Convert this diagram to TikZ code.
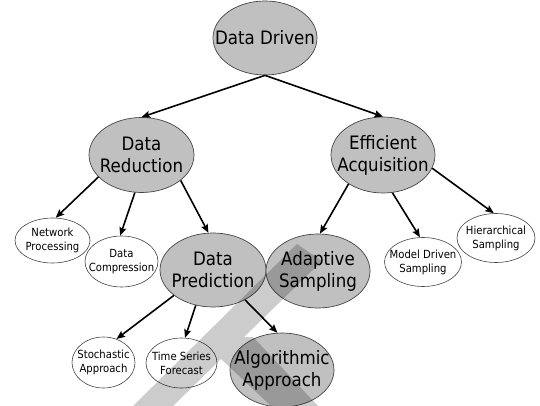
\documentclass[tikz,border=0pt]{standalone}
\usepackage{fontspec}
\setmainfont{DejaVu Sans Condensed}
\usetikzlibrary{shapes.geometric,arrows.meta}
\definecolor{nodegray}{HTML}{C0C0C0}
\definecolor{edgegray}{HTML}{454545}
\tikzset{
  big/.style={ellipse, draw=edgegray, line width=0.7pt, fill=nodegray, inner sep=0pt},
  small/.style={ellipse, draw=edgegray, line width=0.6pt, fill=white, inner sep=0pt},
  bigtext/.style={align=center, inner sep=0pt, font=\fontsize{18.5}{22}\selectfont},
  smalltext/.style={align=center, inner sep=0pt, font=\fontsize{11.2}{14}\selectfont},
  link/.style={line width=1.6pt, -{Stealth[length=8.5pt,width=7pt,inset=1.5pt]}},
  band/.style={fill=black, fill opacity=0.2, draw=none}
}
\begin{document}
\begin{tikzpicture}[x=1pt,y=-1pt]
\useasboundingbox (0,0) rectangle (540,406);
% main nodes
\node[big, minimum width=104pt, minimum height=74pt] (dd) at (265,38) {};
\node[big, minimum width=105pt, minimum height=75pt] (dr) at (141.5,155) {};
\node[big, minimum width=104pt, minimum height=76pt] (ea) at (383,155) {};
\node[big, minimum width=106pt, minimum height=74pt] (dp) at (213,270) {};
\node[big, minimum width=104pt, minimum height=74pt] (as) at (318,271) {};
\node[big, minimum width=104pt, minimum height=74pt] (aa) at (282,370) {};
% small nodes
\node[small, minimum width=75pt, minimum height=45pt] (np) at (52.5,240.5) {};
\node[small, minimum width=73pt, minimum height=51pt] (dc) at (121.5,261.5) {};
\node[small, minimum width=77pt, minimum height=49pt] (md) at (423,262) {};
\node[small, minimum width=78pt, minimum height=49pt] (hs) at (496,238) {};
\node[small, minimum width=63pt, minimum height=51pt] (sa) at (103.5,362.5) {};
\node[small, minimum width=71pt, minimum height=50pt] (ts) at (181.5,363) {};
% labels
\node[bigtext] (ddt) at (dd) {Data Driven};
\node[bigtext] (drt) at (dr) {Data\\Reduction};
\node[bigtext] (eat) at (ea) {Efficient\\Acquisition};
\node[bigtext] (dpt) at (dp) {Data\\Prediction};
\node[bigtext] (ast) at (as) {Adaptive\\Sampling};
\node[bigtext] (aat) at (aa) {Algorithmic\\Approach};
\node[smalltext] (npt) at (np) {Network\\Processing};
\node[smalltext] (dct) at (dc) {Data\\Compression};
\node[smalltext] (mdt) at (md) {Model Driven\\Sampling};
\node[smalltext] (hst) at (hs) {Hierarchical\\Sampling};
\node[smalltext] (sat) at (sa) {Stochastic\\Approach};
\node[smalltext] (tst) at (ts) {Time Series\\Forecast};
% connectors
\draw[link] (dd.south) -- (dr.north);
\draw[link] (dd.south) -- (ea.north);
\draw[link] (dr.-153) -- (np.82);
\draw[link] (dr.-100) -- (dc.93);
\draw[link] (dr.-33) -- (dp.97);
\draw[link] (ea.-140) -- (as.87);
\draw[link] (ea.-76) -- (md.97);
\draw[link] (ea.-15) -- (hs.95);
\draw[link] (dp.-147) -- (sa.61);
\draw[link] (dp.-116) -- (ts.82);
\draw[link] (dp.-43) -- (aa.97);
% translucent band
\path[band] (133,406) -- (297,244) -- (322,261) -- (244,337) -- (253,337)
  -- (318,406) -- (271,406) -- (221,359) -- (173,406) -- cycle;
\end{tikzpicture}
\end{document}
